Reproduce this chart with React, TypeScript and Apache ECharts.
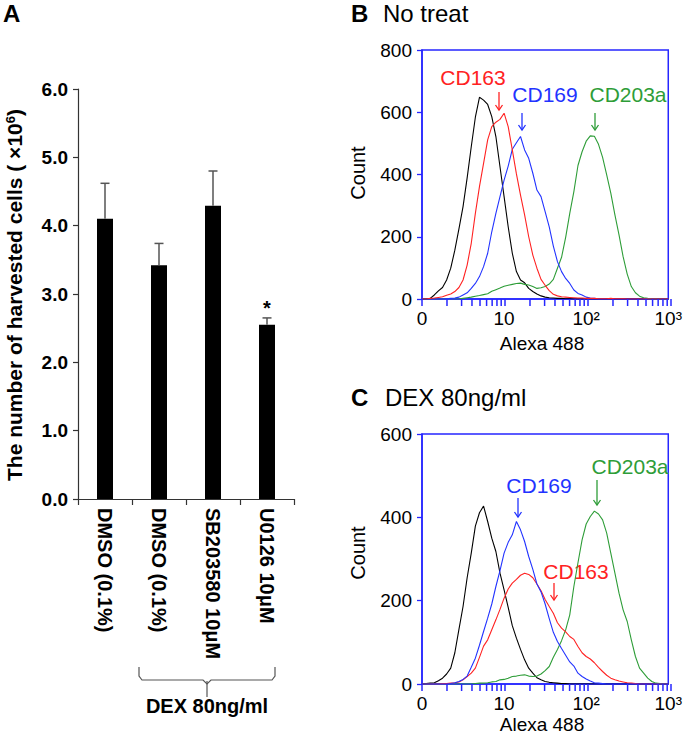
import React, { useEffect, useRef } from "react";
import * as echarts from "echarts";

// ---------- Panel A data ----------
const categoriesA = ["DMSO (0.1%)", "DMSO (0.1%)", "SB203580 10μM", "U0126 10μM"];
const harvestedMean = [4.1, 3.42, 4.29, 2.55];
const harvestedErr = [0.52, 0.32, 0.51, 0.1];
const significance = ["", "", "", "*"];

// ---------- Panels B / C data (histograms, Alexa 488 intensity bins) ----------
const intensityBins = [
  1, 1.122, 1.259, 1.413, 1.585, 1.778, 1.995, 2.239, 2.512, 2.818,
  3.162, 3.548, 3.981, 4.467, 5.012, 5.623, 6.31, 7.079, 7.943, 8.913,
  10, 11.22, 12.59, 14.13, 15.85, 17.78, 19.95, 22.39, 25.12, 28.18,
  31.62, 35.48, 39.81, 44.67, 50.12, 56.23, 63.1, 70.79, 79.43, 89.13,
  100, 112.2, 125.9, 141.3, 158.5, 177.8, 199.5, 223.9, 251.2, 281.8,
  316.2, 354.8, 398.1, 446.7, 501.2, 562.3, 631, 707.9, 794.3, 891.3, 1000,
];

const noTreatControl = [
  0, 1, 2, 13, 26, 37, 61, 99, 157, 225,
  297, 389, 489, 584, 648, 639, 625, 586, 522, 425,
  329, 232, 147, 88, 61, 52, 34, 24, 16, 10,
  6, 4, 3, 2, 2, 1, 1, 0, 0, 0,
  0, 0, 0, 0, 0, 0, 0, 0, 0, 0,
  0, 0, 0, 0, 0, 0, 0, 0, 0, 0, 0,
];
const noTreatCD163 = [
  0, 0, 2, 3, 5, 7, 12, 16, 24, 37,
  61, 109, 179, 275, 361, 436, 511, 554, 568, 577,
  597, 554, 479, 402, 334, 270, 200, 141, 99, 63,
  44, 27, 15, 10, 7, 6, 5, 4, 3, 3,
  2, 2, 2, 1, 1, 1, 2, 1, 1, 1,
  0, 0, 0, 0, 0, 0, 0, 0, 0, 0, 0,
];
const noTreatCD169 = [
  0, 0, 0, 0, 0, 0, 1, 2, 3, 6,
  13, 20, 34, 50, 72, 104, 147, 216, 275, 329,
  382, 427, 481, 502, 522, 479, 452, 404, 350, 329,
  281, 232, 170, 120, 88, 66, 50, 29, 18, 13,
  6, 3, 2, 1, 1, 0, 0, 0, 0, 0,
  0, 0, 0, 0, 0, 0, 0, 0, 0, 0, 0,
];
const noTreatCD203a = [
  0, 0, 0, 0, 0, 0, 0, 0, 0, 0,
  2, 4, 6, 9, 11, 14, 17, 25, 30, 35,
  41, 44, 47, 50, 51, 47, 45, 40, 34, 36,
  40, 48, 63, 99, 134, 198, 275, 345, 429, 473,
  507, 524, 523, 497, 455, 399, 340, 270, 206, 136,
  80, 40, 20, 9, 4, 2, 1, 1, 0, 0, 0,
];

const dexControl = [
  0, 1, 2, 3, 8, 14, 24, 38, 75, 131,
  186, 255, 314, 379, 411, 427, 390, 350, 318, 266,
  226, 184, 140, 110, 83, 58, 38, 26, 15, 10,
  6, 4, 3, 2, 1, 1, 0, 0, 0, 0,
  0, 0, 0, 0, 0, 0, 0, 0, 0, 0,
  0, 0, 0, 0, 0, 0, 0, 0, 0, 0, 0,
];
const dexCD163 = [
  0, 0, 0, 0, 0, 1, 1, 2, 3, 5,
  10, 18, 26, 38, 64, 91, 106, 130, 154, 179,
  206, 228, 242, 251, 261, 266, 263, 255, 240, 224,
  203, 186, 170, 147, 134, 125, 114, 107, 90, 75,
  66, 60, 51, 40, 30, 21, 14, 10, 7, 5,
  3, 2, 1, 0, 0, 0, 0, 0, 0, 0, 0,
];
const dexCD169 = [
  0, 0, 0, 0, 0, 0, 0, 1, 3, 6,
  11, 19, 40, 62, 93, 126, 158, 192, 234, 272,
  314, 340, 358, 390, 370, 342, 306, 275, 240, 221,
  192, 157, 124, 102, 85, 69, 53, 43, 26, 18,
  12, 7, 3, 2, 1, 0, 0, 0, 0, 0,
  0, 0, 0, 0, 0, 0, 0, 0, 0, 0, 0,
];
const dexCD203a = [
  0, 0, 0, 0, 0, 0, 0, 0, 0, 0,
  0, 0, 0, 1, 2, 2, 3, 5, 6, 10,
  11, 14, 18, 19, 21, 22, 19, 18, 19, 24,
  32, 42, 64, 83, 104, 130, 166, 234, 291, 346,
  384, 402, 415, 408, 394, 362, 314, 266, 218, 178,
  150, 106, 66, 38, 26, 14, 6, 2, 1, 0, 0,
];

// tick positions of the log intensity axis (1 is shown as "0")
const logTickValues = [
  1, 2, 3, 4, 5, 6, 7, 8, 9,
  10, 20, 30, 40, 50, 60, 70, 80, 90,
  100, 200, 300, 400, 500, 600, 700, 800, 900, 1000,
];

// ---------- styling / layout ----------
const FONT = '"Liberation Sans", Arial, Helvetica, sans-serif';
const FRAME = "#2626ff";
const RED = "#ff2222";
const BLUE = "#2233ff";
const GREEN = "#2e9d38";
const BLACK = "#000000";

const FLOW_LEFT = 422;
const FLOW_WIDTH = 249;
const GRID_B = { left: FLOW_LEFT, top: 50, width: FLOW_WIDTH, height: 249 };
const GRID_C = { left: FLOW_LEFT, top: 434, width: FLOW_WIDTH, height: 250 };

function font(size: number, weight = "normal") {
  return `${weight} ${size}px ${FONT}`;
}

function txt(x: number, y: number, text: string, size: number, opts: any = {}) {
  return {
    type: "text",
    x,
    y,
    rotation: opts.rotation || 0,
    silent: true,
    style: {
      text,
      fill: opts.color || "#000",
      font: font(size, opts.weight || "normal"),
      align: opts.align || "center",
      textAlign: opts.align || "center",
      verticalAlign: "middle",
      textVerticalAlign: "middle",
      rich: opts.rich,
    },
  };
}

function arrow(x: number, y1: number, y2: number, color: string) {
  return [
    { type: "line", silent: true, shape: { x1: x, y1, x2: x, y2 }, style: { stroke: color, lineWidth: 1.3 } },
    {
      type: "polyline",
      silent: true,
      shape: { points: [[x - 3.5, y2 - 5], [x, y2], [x + 3.5, y2 - 5]] },
      style: { stroke: color, lineWidth: 1.3, fill: "none" },
    },
  ];
}

// tick marks of the 1..1000 log axis (3 decades across the plot width)
function logTickMarks(grid: { left: number; top: number; width: number; height: number }) {
  const yAxisPos = grid.top + grid.height;
  return logTickValues.map((v) => {
    const x = grid.left + (grid.width * Math.log10(v)) / 3;
    return {
      type: "line",
      silent: true,
      z: 50,
      shape: { x1: x, y1: yAxisPos, x2: x, y2: yAxisPos + 7 },
      style: { stroke: FRAME, lineWidth: 1.5 },
    };
  });
}

function histSeries(values: number[], color: string, axisIdx: number) {
  return {
    type: "line",
    xAxisIndex: axisIdx,
    yAxisIndex: axisIdx,
    data: intensityBins.map((x, i) => [x, values[i]]),
    showSymbol: false,
    symbol: "none",
    silent: true,
    lineStyle: { color, width: 1.1 },
    itemStyle: { color },
  };
}

function logLabel(v: number) {
  const p = Math.round(Math.log10(v));
  if (p === 0) return "0";
  if (p === 1) return "10";
  if (p === 2) return "10²";
  return "10³";
}

function flowXAxis(gridIndex: number) {
  return {
    gridIndex,
    type: "log",
    logBase: 10,
    min: 1,
    max: 1000,
    axisLine: { show: true, lineStyle: { color: FRAME, width: 1.5 } },
    axisTick: { show: false },
    axisLabel: { formatter: logLabel, fontSize: 19, color: "#000", margin: 10, fontFamily: FONT },
    splitLine: { show: false },
    minorTick: { show: false },
  };
}

function flowYAxis(gridIndex: number, max: number) {
  return {
    gridIndex,
    type: "value",
    min: 0,
    max,
    interval: 200,
    axisLine: { show: true, lineStyle: { color: FRAME, width: 1.5 } },
    axisTick: { show: true, length: 5, inside: false, lineStyle: { color: FRAME, width: 1.3 } },
    axisLabel: { fontSize: 19, color: "#000", margin: 10, fontFamily: FONT },
    splitLine: { show: false },
  };
}

export default function App() {
  const ref = useRef<HTMLDivElement>(null);

  useEffect(() => {
    if (!ref.current) return;
    const chart = echarts.init(ref.current, undefined, { renderer: "svg" });

    const graphic: any[] = [
      // Panel A
      txt(3, 13, "A", 24, { weight: "bold", align: "left" }),
      txt(14, 295, "The number of harvested cells ( ×10{sup|6})", 21, {
        weight: "bold",
        rotation: Math.PI / 2,
        rich: { sup: { fontSize: 13, fontWeight: "bold", fontFamily: FONT, verticalAlign: "top", lineHeight: 14 } },
      }),
      {
        type: "polyline",
        silent: true,
        shape: { points: [[139, 667], [139, 676], [142, 680], [203, 680], [207, 684], [211, 680], [272, 680], [275, 676], [275, 667]] },
        style: { stroke: "#555", lineWidth: 1.2, fill: "none" },
      },
      { type: "line", silent: true, shape: { x1: 207, y1: 681, x2: 207, y2: 697 }, style: { stroke: "#555", lineWidth: 1.2 } },
      txt(207, 706, "DEX 80ng/ml", 20, { weight: "bold" }),

      // Panel B
      txt(351, 13, "B", 24, { weight: "bold", align: "left" }),
      txt(383, 13, "No treat", 24, { align: "left" }),
      txt(358, 173, "Count", 20, { rotation: Math.PI / 2 }),
      txt(542, 343, "Alexa 488", 19),
      txt(473, 77, "CD163", 21, { color: RED }),
      ...arrow(499, 92, 110, RED),
      txt(545, 94, "CD169", 21, { color: BLUE }),
      ...arrow(522, 113, 130, BLUE),
      txt(628, 94, "CD203a", 21, { color: GREEN }),
      ...arrow(595, 113, 130, GREEN),
      ...logTickMarks(GRID_B),

      // Panel C
      txt(351, 397, "C", 24, { weight: "bold", align: "left" }),
      txt(385, 397, "DEX 80ng/ml", 24, { align: "left" }),
      txt(358, 553, "Count", 20, { rotation: Math.PI / 2 }),
      txt(542, 724, "Alexa 488", 19),
      txt(539, 485, "CD169", 21, { color: BLUE }),
      ...arrow(518, 498, 517, BLUE),
      txt(630, 466, "CD203a", 21, { color: GREEN }),
      ...arrow(597, 480, 505, GREEN),
      txt(576, 571, "CD163", 21, { color: RED }),
      ...arrow(554, 583, 600, RED),
      ...logTickMarks(GRID_C),
    ];

    const option: any = {
      animation: false,
      backgroundColor: "#ffffff",
      textStyle: { fontFamily: FONT },
      grid: [
        { left: 78, top: 89, width: 216, height: 410 },
        { ...GRID_B, show: true, borderColor: FRAME, borderWidth: 1.5, backgroundColor: "transparent" },
        { ...GRID_C, show: true, borderColor: FRAME, borderWidth: 1.5, backgroundColor: "transparent" },
      ],
      xAxis: [
        {
          gridIndex: 0,
          type: "category",
          data: categoriesA,
          axisLine: { show: true, lineStyle: { color: "#333", width: 1.2 } },
          axisTick: { show: true, length: 6, alignWithLabel: false, lineStyle: { color: "#333", width: 1.2 } },
          axisLabel: { rotate: -90, interval: 0, margin: 9, fontSize: 20, fontWeight: "bold", color: "#000", fontFamily: FONT },
          splitLine: { show: false },
        },
        flowXAxis(1),
        flowXAxis(2),
      ],
      yAxis: [
        {
          gridIndex: 0,
          type: "value",
          min: 0,
          max: 6,
          interval: 1,
          axisLine: { show: true, lineStyle: { color: "#333", width: 1.2 } },
          axisTick: { show: true, length: 5, lineStyle: { color: "#333", width: 1.2 } },
          axisLabel: { formatter: (v: number) => v.toFixed(1), fontSize: 19, fontWeight: "bold", color: "#000", margin: 10, fontFamily: FONT },
          splitLine: { show: false },
        },
        flowYAxis(1, 800),
        flowYAxis(2, 600),
      ],
      series: [
        {
          type: "bar",
          xAxisIndex: 0,
          yAxisIndex: 0,
          data: harvestedMean,
          barWidth: 16,
          silent: true,
          itemStyle: { color: "#000" },
        },
        {
          type: "custom",
          xAxisIndex: 0,
          yAxisIndex: 0,
          silent: true,
          z: 10,
          data: harvestedMean.map((m, i) => [i, m, m + harvestedErr[i]]),
          renderItem: (params: any, api: any) => {
            const idx = api.value(0);
            const base = api.coord([idx, api.value(1)]);
            const top = api.coord([idx, api.value(2)]);
            const st = { stroke: "#555", lineWidth: 1.5 };
            const children: any[] = [
              { type: "line", shape: { x1: base[0], y1: base[1], x2: top[0], y2: top[1] }, style: st },
              { type: "line", shape: { x1: top[0] - 4.5, y1: top[1], x2: top[0] + 4.5, y2: top[1] }, style: st },
            ];
            const sig = significance[params.dataIndex];
            if (sig) {
              children.push({
                type: "text",
                x: top[0],
                y: top[1] - 10,
                style: { text: sig, fill: "#000", font: font(20, "bold"), align: "center", verticalAlign: "middle", textAlign: "center", textVerticalAlign: "middle" },
              });
            }
            return { type: "group", children };
          },
        },
        histSeries(noTreatControl, BLACK, 1),
        histSeries(noTreatCD203a, GREEN, 1),
        histSeries(noTreatCD169, BLUE, 1),
        histSeries(noTreatCD163, RED, 1),
        histSeries(dexControl, BLACK, 2),
        histSeries(dexCD203a, GREEN, 2),
        histSeries(dexCD163, RED, 2),
        histSeries(dexCD169, BLUE, 2),
      ],
      graphic,
    };

    chart.setOption(option);
    return () => chart.dispose();
  }, []);

  return (
    <div
      ref={ref}
      style={{ position: "absolute", left: 0, top: 0, width: 685, height: 737, background: "#fff" }}
    />
  );
}
